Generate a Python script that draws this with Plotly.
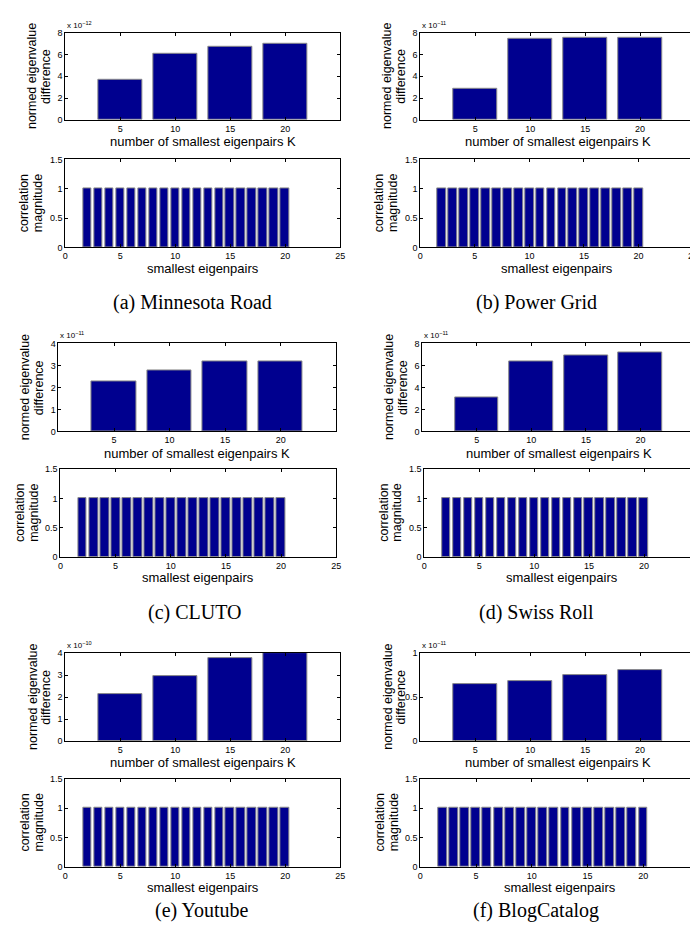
import plotly.graph_objects as go

W, H = 698, 938

# ---------------- data ----------------
K_VALUES = [5, 10, 15, 20]
EIGENPAIRS = list(range(2, 21))

diff_minnesota = [3.7e-12, 6.1e-12, 6.75e-12, 7.0e-12]
diff_powergrid = [2.9e-11, 7.45e-11, 7.5e-11, 7.55e-11]
diff_cluto = [2.27e-11, 2.79e-11, 3.19e-11, 3.19e-11]
diff_swissroll = [3.07e-11, 6.33e-11, 6.87e-11, 7.22e-11]
diff_youtube = [2.13e-10, 2.94e-10, 3.79e-10, 4.0e-10]
diff_blogcatalog = [0.65e-11, 0.68e-11, 0.745e-11, 0.805e-11]

corr_minnesota = [1.0] * 19
corr_powergrid = [1.0] * 19
corr_cluto = [1.0] * 19
corr_swissroll = [1.0] * 19
corr_youtube = [1.0] * 19
corr_blogcatalog = [1.0] * 19

exponents = [-12, -11, -11, -11, -10, -11]
top_ymax = [8, 8, 4, 8, 4, 1]
top_dtick = [2, 2, 1, 2, 1, 0.5]
captions = ["(a) Minnesota Road", "(b) Power Grid", "(c) CLUTO",
            "(d) Swiss Roll", "(e) Youtube", "(f) BlogCatalog"]

diffs = [diff_minnesota, diff_powergrid, diff_cluto, diff_swissroll,
         diff_youtube, diff_blogcatalog]
corrs = [corr_minnesota, corr_powergrid, corr_cluto, corr_swissroll,
         corr_youtube, corr_blogcatalog]

# ---------------- layout geometry (pixels) ----------------
# (left, right, top, bottom)
top_boxes = [(55, 333, 20, 108), (414, 692, 20, 108),
             (48, 329, 334, 423), (416, 692, 334, 423),
             (55, 333, 647, 736), (414, 692, 647, 736)]
bot_boxes = [(55, 333, 148, 237), (414, 690, 148, 237),
             (50, 329, 461, 550), (418, 696, 461, 550),
             (55, 333, 774, 863), (414, 696, 774, 863)]
caption_pos = [(184, 293), (532, 293), (186, 606), (532, 606),
               (193, 907), (531, 907)]

BAR_COLOR = "#00008F"
EDGE_COLOR = "#8a8a8a"
SANS = "Liberation Sans, Arial, sans-serif"
SERIF = "Liberation Serif, DejaVu Serif, serif"

fig = go.Figure()
layout = dict(width=W, height=H, margin=dict(l=0, r=0, t=0, b=0),
              paper_bgcolor="white", plot_bgcolor="white",
              showlegend=False, bargap=0, annotations=[])


def px_x(x):
    return x / W


def px_y(y):
    return 1 - y / H


def axis_common():
    return dict(showline=True, linecolor="black", linewidth=1, mirror="allticks",
                ticks="inside", ticklen=3, tickcolor="black", tickwidth=1,
                showgrid=False, zeroline=False,
                tickfont=dict(family=SANS, size=9, color="black"))


ann = layout["annotations"]
axis_idx = 1
for i in range(6):
    # ---------- top subplot ----------
    l, r, t, b = top_boxes[i]
    xa = "xaxis" if axis_idx == 1 else f"xaxis{axis_idx}"
    ya = "yaxis" if axis_idx == 1 else f"yaxis{axis_idx}"
    xref = "x" if axis_idx == 1 else f"x{axis_idx}"
    yref = "y" if axis_idx == 1 else f"y{axis_idx}"
    scale = 10.0 ** exponents[i]
    fig.add_trace(go.Bar(x=K_VALUES, y=[v / scale for v in diffs[i]], width=4,
                         marker=dict(color=BAR_COLOR, line=dict(color=EDGE_COLOR, width=1)),
                         xaxis=xref, yaxis=yref))
    xd = axis_common()
    xd.update(domain=[px_x(l), px_x(r)], range=[0, 25], tickvals=K_VALUES,
              anchor=yref)
    yd = axis_common()
    yd.update(domain=[px_y(b), px_y(t)], range=[0, top_ymax[i]],
              dtick=top_dtick[i], tick0=0, anchor=xref)
    layout[xa] = xd
    layout[ya] = yd
    # exponent label
    ann.append(dict(x=px_x(l), y=px_y(t - 1), xref="paper", yref="paper",
                    xanchor="left", yanchor="bottom", showarrow=False,
                    text=f"x 10<sup>\u2212{abs(exponents[i])}</sup>",
                    font=dict(family=SANS, size=8, color="black")))
    # x label
    ann.append(dict(x=px_x((l + r) / 2), y=px_y(b + 22), xref="paper", yref="paper",
                    xanchor="center", yanchor="middle", showarrow=False,
                    text="number of smallest eigenpairs K",
                    font=dict(family=SANS, size=13, color="black")))
    # y label (two lines)
    for dx, txt in ((-33, "normed eigenvalue"), (-19, "difference")):
        ann.append(dict(x=px_x(l + dx), y=px_y((t + b) / 2), xref="paper", yref="paper",
                        xanchor="center", yanchor="middle", showarrow=False,
                        textangle=-90, text=txt,
                        font=dict(family=SANS, size=12.5, color="black")))
    axis_idx += 1

    # ---------- bottom subplot ----------
    l, r, t, b = bot_boxes[i]
    xa = f"xaxis{axis_idx}"
    ya = f"yaxis{axis_idx}"
    xref = f"x{axis_idx}"
    yref = f"y{axis_idx}"
    fig.add_trace(go.Bar(x=EIGENPAIRS, y=corrs[i], width=0.8,
                         marker=dict(color=BAR_COLOR, line=dict(color=EDGE_COLOR, width=1)),
                         xaxis=xref, yaxis=yref))
    xd = axis_common()
    xd.update(domain=[px_x(l), px_x(r)], range=[0, 25], dtick=5, tick0=0,
              anchor=yref)
    yd = axis_common()
    yd.update(domain=[px_y(b), px_y(t)], range=[0, 1.5], dtick=0.5, tick0=0,
              anchor=xref)
    layout[xa] = xd
    layout[ya] = yd
    ann.append(dict(x=px_x((l + r) / 2), y=px_y(b + 21), xref="paper", yref="paper",
                    xanchor="center", yanchor="middle", showarrow=False,
                    text="smallest eigenpairs",
                    font=dict(family=SANS, size=13, color="black")))
    for dx, txt in ((-41, "correlation"), (-27, "magnitude")):
        ann.append(dict(x=px_x(l + dx), y=px_y((t + b) / 2), xref="paper", yref="paper",
                        xanchor="center", yanchor="middle", showarrow=False,
                        textangle=-90, text=txt,
                        font=dict(family=SANS, size=12.5, color="black")))
    axis_idx += 1

    # ---------- caption ----------
    cx, cy = caption_pos[i]
    ann.append(dict(x=px_x(cx), y=px_y(cy), xref="paper", yref="paper",
                    xanchor="center", yanchor="middle", showarrow=False,
                    text=captions[i],
                    font=dict(family=SERIF, size=20, color="black")))

fig.update_layout(**layout)
fig.write_html("out.html")
